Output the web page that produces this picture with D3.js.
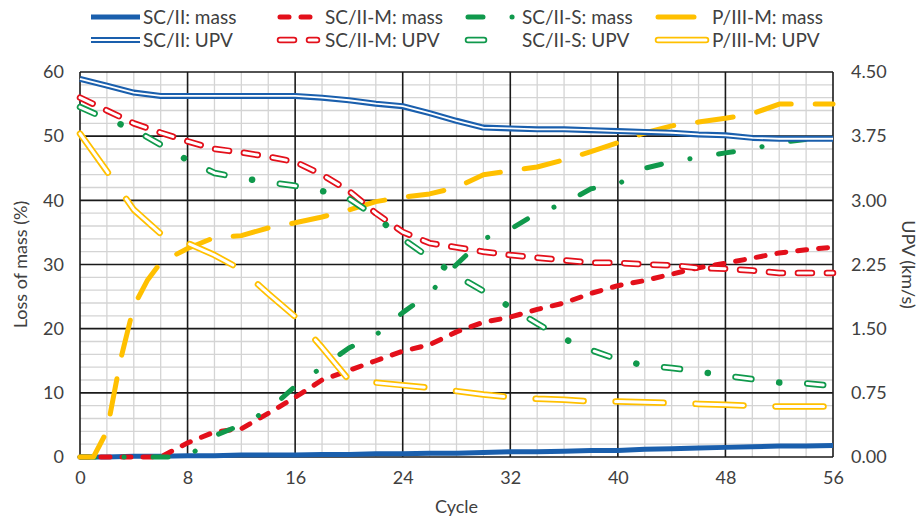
<!DOCTYPE html>
<meta charset="utf-8">
<script src="https://d3js.org/d3.v7.min.js"></script>
<style>
  body { margin: 0; background: #fff; }
  text { font-family: Lato, "Open Sans", sans-serif; fill: #404040; }
</style>
<div id="my_dataviz"></div>
<script>

// cycles shared by most series
var cycles = [0,2,4,6,8,10,12,14,16,18,20,22,24,26,28,30,32,34,36,38,40,42,44,46,48,50,52,54,56];
// P/III-M mass rises fast at the start, so it gets a few extra points
var p3mCycles = [0,1,2,3,4,5,6,8,10,12,14,16,18,20,22,24,26,28,30,32,34,36,38,40,42,44,46,48,50,52,54,56];

// loss of mass (%)
var scMass  = [0,0,0.1,0.1,0.2,0.2,0.3,0.3,0.3,0.4,0.4,0.5,0.5,0.6,0.6,0.7,0.8,0.8,0.9,1.0,1.0,1.2,1.3,1.4,1.5,1.6,1.7,1.7,1.8];
var scmMass = [0,0,0,0,2.2,3.9,4.4,6.8,9.3,12,13.5,15,16.5,17.5,19.5,21,21.8,23,24,25.5,26.7,27.5,28.5,29.5,30.2,31,31.8,32.3,32.7];
var scsMass = [0,0,0,0,0,3.3,5,7.3,11,14,17,19,22.5,25.5,30,34,35.5,38,39.5,41.8,42.5,45,46,46.7,47.4,48,49,49.5,50];
var p3mMass = [0,0,4,15,23.5,27.5,30.3,32.5,34.2,34.5,35.7,36.5,37.4,38.5,39.8,40.5,41,42,44,44.6,45.2,46.3,47.6,49,50.5,51.6,52.2,52.8,53.5,55,55,55];

// UPV (km/s)
var scUpv  = [4.42,4.34,4.26,4.22,4.22,4.22,4.22,4.22,4.22,4.2,4.17,4.13,4.1,4.02,3.93,3.85,3.84,3.83,3.83,3.82,3.81,3.8,3.79,3.77,3.76,3.73,3.72,3.72,3.72];
var scmUpv = [4.2,4.05,3.9,3.79,3.69,3.6,3.56,3.51,3.45,3.3,3.11,2.85,2.63,2.5,2.45,2.4,2.36,2.33,2.3,2.27,2.27,2.25,2.24,2.21,2.2,2.18,2.15,2.15,2.15];
var scsUpv = [4.09,3.95,3.83,3.65,3.47,3.32,3.26,3.21,3.17,3.11,3.02,2.81,2.55,2.33,2.12,1.94,1.75,1.56,1.38,1.25,1.14,1.07,1.04,1.0,0.95,0.91,0.87,0.86,0.83];
var p3mUpv = [3.78,3.34,2.89,2.61,2.5,2.36,2.19,1.91,1.64,1.28,0.9,0.87,0.84,0.81,0.77,0.73,0.7,0.68,0.67,0.65,0.65,0.64,0.63,0.62,0.61,0.6,0.59,0.59,0.59];

var xTicks = [0,8,16,24,32,40,48,56];
var yTicks = [0,10,20,30,40,50,60];
var y2Ticks = [0,0.75,1.5,2.25,3,3.75,4.5];

var width = 919, height = 519;
var margin = {top: 72, right: 86, bottom: 62, left: 80};

var svg = d3.select("#my_dataviz")
  .append("svg")
    .attr("width", width)
    .attr("height", height);

var x = d3.scaleLinear().domain([0, 56]).range([margin.left, width - margin.right]);
var y = d3.scaleLinear().domain([0, 60]).range([height - margin.bottom, margin.top]);
var y2 = d3.scaleLinear().domain([0, 4.5]).range([height - margin.bottom, margin.top]);

// minor grid
svg.append("g")
  .selectAll("line")
  .data(d3.range(0, 57, 2).filter(function(d) { return d % 8 != 0; }))
  .enter().append("line")
    .attr("x1", function(d) { return x(d); }).attr("x2", function(d) { return x(d); })
    .attr("y1", y(0)).attr("y2", y(60))
    .attr("stroke", "#d4d4d4").attr("stroke-width", 1.3);
svg.append("g")
  .selectAll("line")
  .data(d3.range(0, 61, 2).filter(function(d) { return d % 10 != 0; }))
  .enter().append("line")
    .attr("y1", function(d) { return y(d); }).attr("y2", function(d) { return y(d); })
    .attr("x1", x(0)).attr("x2", x(56))
    .attr("stroke", "#d4d4d4").attr("stroke-width", 1.3);

// major grid
svg.append("g")
  .selectAll("line")
  .data(xTicks)
  .enter().append("line")
    .attr("x1", function(d) { return x(d); }).attr("x2", function(d) { return x(d); })
    .attr("y1", y(0)).attr("y2", y(60))
    .attr("stroke", "#1a1a1a").attr("stroke-width", 1.6);
svg.append("g")
  .selectAll("line")
  .data(yTicks)
  .enter().append("line")
    .attr("y1", function(d) { return y(d); }).attr("y2", function(d) { return y(d); })
    .attr("x1", x(0)).attr("x2", x(56))
    .attr("stroke", "#1a1a1a").attr("stroke-width", 1.6);

// axes (labels only, lines come from the grid)
var xAxis = svg.append("g")
  .attr("transform", "translate(0," + y(0) + ")")
  .call(d3.axisBottom(x).tickValues(xTicks).tickSize(0).tickPadding(14));
var yAxis = svg.append("g")
  .attr("transform", "translate(" + x(0) + ",0)")
  .call(d3.axisLeft(y).tickValues(yTicks).tickSize(0).tickPadding(16));
var y2Axis = svg.append("g")
  .attr("transform", "translate(" + x(56) + ",0)")
  .call(d3.axisRight(y2).tickValues(y2Ticks).tickFormat(d3.format(".2f")).tickSize(0).tickPadding(18));
[xAxis, yAxis, y2Axis].forEach(function(a) {
  a.select(".domain").remove();
  a.selectAll("text").style("font-size", "18px").attr("fill", "#404040")
    .style("font-family", "Lato, 'Open Sans', sans-serif");
});

svg.append("text")
  .attr("x", (x(0) + x(56)) / 2).attr("y", 513)
  .attr("text-anchor", "middle").style("font-size", "18px")
  .text("Cycle");
svg.append("text")
  .attr("transform", "translate(27," + (y(30)) + ")rotate(-90)")
  .attr("text-anchor", "middle").style("font-size", "18px")
  .text("Loss of mass (%)");
svg.append("text")
  .attr("transform", "translate(902," + (y(30)) + ")rotate(90)")
  .attr("text-anchor", "middle").style("font-size", "18px")
  .text("UPV (km/s)");

var blue = "#1a5fad", red = "#e3101b", green = "#10994c", yellow = "#ffc000";

// series styles
var series = [
  {name: "SC/II: mass",   xs: cycles,    ys: scMass,  sc: y,  color: blue,   w: 5,   dash: null,           cap: "butt"},
  {name: "SC/II-M: mass", xs: cycles,    ys: scmMass, sc: y,  color: red,    w: 5,   dash: "9,12",         cap: "round"},
  {name: "SC/II-S: mass", xs: cycles,    ys: scsMass, sc: y,  color: green,  w: 5,   dash: "15,29,0.1,29", cap: "round"},
  {name: "P/III-M: mass", xs: p3mCycles, ys: p3mMass, sc: y,  color: yellow, w: 5,   dash: "36,24",        cap: "round"},
  {name: "SC/II: UPV",    xs: cycles,    ys: scUpv,   sc: y2, color: blue,   w: 6,   dash: null,           inner: 1.8, cap: "butt"},
  {name: "SC/II-M: UPV",  xs: cycles,    ys: scmUpv,  sc: y2, color: red,    w: 6.5, dash: "14,15",        inner: 3, cap: "round"},
  {name: "SC/II-S: UPV",  xs: cycles,    ys: scsUpv,  sc: y2, color: green,  w: 6.5, dash: "16,28,0.1,28", innerDash: "16,56.1", inner: 3, cap: "round"},
  {name: "P/III-M: UPV",  xs: cycles,    ys: p3mUpv,  sc: y2, color: yellow, w: 6.5, dash: "48,32",        inner: 3, cap: "round"}
];

function drawPath(g, d, pts) {
  g.append("path")
    .attr("d", pts)
    .attr("fill", "none")
    .attr("stroke", d.color)
    .attr("stroke-width", d.w)
    .attr("stroke-linecap", d.cap)
    .attr("stroke-linejoin", "round")
    .attr("stroke-dasharray", d.dash);
  if (d.inner) {
    g.append("path")
      .attr("d", pts)
      .attr("fill", "none")
      .attr("stroke", "#fff")
      .attr("stroke-width", d.inner)
      .attr("stroke-linecap", d.cap)
      .attr("stroke-linejoin", "round")
      .attr("stroke-dasharray", d.innerDash || d.dash);
  }
}

var lines = svg.append("g");
series.forEach(function(d) {
  var line = d3.line()
    .x(function(p) { return x(p[0]); })
    .y(function(p) { return d.sc(p[1]); });
  drawPath(lines, d, line(d3.zip(d.xs, d.ys)));
});

// legend
var legendPos = [
  {x: 88, len: 52, tx: 143}, {x: 277, len: 40, tx: 325}, {x: 465, len: 48, tx: 522}, {x: 655, len: 44, tx: 712}
];
var legend = svg.append("g");
series.forEach(function(d, i) {
  var col = legendPos[i % 4], row = Math.floor(i / 4);
  var ly = 17 + row * 23;
  var len = col.len;
  if (i == 6) len = 40;
  if (i == 7) len = 54;
  drawPath(legend, d, "M" + (col.x + 3) + "," + ly + "H" + (col.x + len));
  legend.append("text")
    .attr("x", col.tx).attr("y", ly + 6.5)
    .style("font-size", "19px")
    .text(d.name);
});

</script>
